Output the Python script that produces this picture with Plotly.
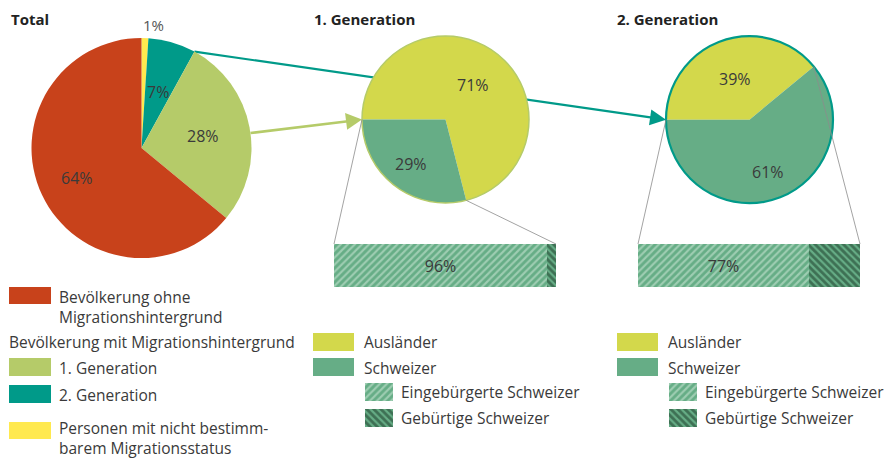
import math
import plotly.graph_objects as go

W, H = 888, 460

# ---------------- data ----------------
titles = ["Total", "1. Generation", "2. Generation"]

total_labels = ["Personen mit nicht bestimmbarem Migrationsstatus", "2. Generation",
                "1. Generation", "Bevölkerung ohne Migrationshintergrund"]
total_values = [1, 7, 28, 64]

gen_labels = ["Ausländer", "Schweizer"]
gen1_values = [71, 29]
gen2_values = [39, 61]

swiss_labels = ["Eingebürgerte Schweizer", "Gebürtige Schweizer"]
gen1_swiss = [96, 4]
gen2_swiss = [77, 23]

legend_left = ["Bevölkerung ohne<br>Migrationshintergrund", "Bevölkerung mit Migrationshintergrund",
               "1. Generation", "2. Generation", "Personen mit nicht bestimm-<br>barem Migrationsstatus"]

# ---------------- styles ----------------
C_NONE = "#c8421b"
C_G1 = "#b5cb69"
C_G2 = "#009a89"
C_UNK = "#ffe94f"
C_AUS = "#d3d84b"
C_CH = "#66ad86"
C_LIGHT_STRIPE = "#d6eddd"
C_DARK_STRIPE = "#153422"
TXT = "#3a3a3a"
FONT = "Open Sans"
LEG_SIZE = 15.5
LAB_SIZE = 16

total_colors = [C_UNK, C_G2, C_G1, C_NONE]
gen_colors = [C_AUS, C_CH]

# pie geometry in pixels: centre x, centre y, radius, rotation
P0 = dict(cx=141.5, cy=148.0, r=110.0, rot=0)
P1 = dict(cx=445.5, cy=119.5, r=83.5, rot=-90)
P2 = dict(cx=749.5, cy=119.7, r=83.5, rot=-90)

BAR1 = dict(x0=334, x1=556, y0=244, y1=287)
BAR2 = dict(x0=638, x1=860, y0=244, y1=287)


def dom(p):
    return dict(x=[(p["cx"] - p["r"]) / W, (p["cx"] + p["r"]) / W],
                y=[1 - (p["cy"] + p["r"]) / H, 1 - (p["cy"] - p["r"]) / H])


def point(p, ang, frac=1.0):
    a = math.radians(ang)
    return (p["cx"] + frac * p["r"] * math.sin(a), p["cy"] - frac * p["r"] * math.cos(a))


def angles(p, values):
    tot = sum(values)
    out, acc = [], 0
    for v in values:
        a0 = p["rot"] + 360 * acc / tot
        acc += v
        a1 = p["rot"] + 360 * acc / tot
        out.append((a0, a1))
    return out


fig = go.Figure()

# ---------------- pies ----------------
for p, vals, labs, cols in [(P0, total_values, total_labels, total_colors),
                            (P1, gen1_values, gen_labels, gen_colors),
                            (P2, gen2_values, gen_labels, gen_colors)]:
    fig.add_trace(go.Pie(values=vals, labels=labs, sort=False, direction="clockwise",
                         rotation=p["rot"], textinfo="none", hoverinfo="label+percent",
                         marker=dict(colors=cols, line=dict(width=0)),
                         domain=dom(p), showlegend=False))

# ---------------- stacked hatched bars ----------------
pat_styles = [dict(shape="/", bgcolor=C_CH, fgcolor=C_LIGHT_STRIPE, size=5, solidity=0.42),
              dict(shape="\\", bgcolor=C_CH, fgcolor=C_DARK_STRIPE, size=5, solidity=0.58)]
for vals, xa, ya in [(gen1_swiss, "x2", "y2"), (gen2_swiss, "x3", "y3")]:
    base = 0
    for j, v in enumerate(vals):
        fig.add_trace(go.Bar(orientation="h", y=[0], x=[v], base=[base], width=[1],
                             xaxis=xa, yaxis=ya, name=swiss_labels[j],
                             marker=dict(color=C_CH, line=dict(width=0), pattern=pat_styles[j]),
                             text=[f"{v}%"] if j == 0 else None,
                             textposition="inside", insidetextanchor="middle",
                             textfont=dict(family=FONT, size=LAB_SIZE, color=TXT),
                             showlegend=False, hoverinfo="name+x"))
        base += v

# ---------------- legend swatches ----------------
shapes = []
annotations = []


def rect(x0, y0, x1, y1, color):
    shapes.append(dict(type="rect", xref="x", yref="y", x0=x0, x1=x1, y0=y0, y1=y1,
                       fillcolor=color, line=dict(width=0), layer="below"))


def text(x, y, s, size=LEG_SIZE, color=TXT, bold=False, anchor="left", yanchor="middle"):
    annotations.append(dict(xref="x", yref="y", x=x, y=y, text=f"<b>{s}</b>" if bold else s,
                            showarrow=False, xanchor=anchor, yanchor=yanchor, align="left",
                            borderpad=0, font=dict(family=FONT, size=size, color=color)))


rect(9, 287, 51, 304, C_NONE)
rect(9, 358, 51, 376, C_G1)
rect(9, 385, 51, 403, C_G2)
rect(9, 422, 51, 439, C_UNK)
text(58, 306.5, legend_left[0])
text(8, 341.5, legend_left[1])
text(58, 368, legend_left[2])
text(58, 395, legend_left[3])
text(58, 459.5, legend_left[4], yanchor="bottom")

for off in (0, 304):
    rect(313 + off, 333, 354 + off, 351, C_AUS)
    rect(313 + off, 358, 354 + off, 376, C_CH)
    text(363 + off, 342, gen_labels[0])
    text(363 + off, 367.5, gen_labels[1])
    for j, yc in enumerate((392, 417.5)):
        fig.add_trace(go.Bar(orientation="h", y=[yc], x=[28], base=[365 + off], width=[18],
                             xaxis="x", yaxis="y", marker=dict(color=C_CH, line=dict(width=0),
                                                               pattern=pat_styles[j]),
                             showlegend=False, hoverinfo="skip"))
        text(400 + off, yc, swiss_labels[j])

# ---------------- titles ----------------
text(10, 18.5, titles[0], size=15, color="#222", bold=True)
text(313, 18.5, titles[1], size=15, color="#222", bold=True)
text(616, 18.5, titles[2], size=15, color="#222", bold=True)

# ---------------- pie labels ----------------
lab_frac0 = [None, 0.53, 0.57, 0.65]
for (a0, a1), v, f in zip(angles(P0, total_values), total_values, lab_frac0):
    if f is None:
        x, y = point(P0, (a0 + a1) / 2, 1.12)
        text(x + 8, y, f"{v}%", size=LAB_SIZE - 1, color="#555", anchor="center")
    else:
        x, y = point(P0, (a0 + a1) / 2, f)
        text(x, y, f"{v}%", size=LAB_SIZE, anchor="center")
for p, vals, fr in [(P1, gen1_values, [0.53, 0.67]), (P2, gen2_values, [0.52, 0.66])]:
    for (a0, a1), v, f in zip(angles(p, vals), vals, fr):
        x, y = point(p, (a0 + a1) / 2, f)
        text(x, y, f"{v}%", size=LAB_SIZE, anchor="center")

# ---------------- connectors ----------------
def arrow(x0, y0, x1, y1, color, width, hl=16, hw=7.5, layer="below"):
    dx, dy = x1 - x0, y1 - y0
    L = math.hypot(dx, dy)
    ux, uy = dx / L, dy / L
    bx, by = x1 - hl * ux, y1 - hl * uy
    shapes.append(dict(type="line", xref="x", yref="y", x0=x0, y0=y0, x1=bx + 2 * ux, y1=by + 2 * uy,
                       line=dict(color=color, width=width), layer=layer))
    px_, py_ = -uy, ux
    path = (f"M{x1},{y1} L{bx + hw * px_},{by + hw * py_} L{bx - hw * px_},{by - hw * py_} Z")
    shapes.append(dict(type="path", xref="x", yref="y", path=path, fillcolor=color,
                       line=dict(width=0), layer=layer))


ang0 = angles(P0, total_values)
# teal: from boundary 2. Generation / 1. Generation to the 2nd pie
sx, sy = point(P0, ang0[1][1])
tx, ty = point(P2, P2["rot"])
arrow(sx, sy, tx, ty, C_G2, 2.2, hl=16, hw=8)
# light green: from the 1. Generation slice to the 1st pie
sx, sy = point(P0, (ang0[2][0] + ang0[2][1]) / 2 + 3)
tx, ty = point(P1, P1["rot"])
arrow(sx, sy, tx, ty, C_G1, 2.6, hl=16, hw=8.5, layer="above")

# circle outlines
shapes.append(dict(type="circle", xref="x", yref="y", x0=P1["cx"] - P1["r"], x1=P1["cx"] + P1["r"],
                   y0=P1["cy"] - P1["r"], y1=P1["cy"] + P1["r"], line=dict(color=C_G1, width=1.5),
                   layer="above"))
shapes.append(dict(type="circle", xref="x", yref="y", x0=P2["cx"] - P2["r"], x1=P2["cx"] + P2["r"],
                   y0=P2["cy"] - P2["r"], y1=P2["cy"] + P2["r"], line=dict(color=C_G2, width=2.2),
                   layer="above"))

# zoom lines from the Schweizer slice to the bars
for p, vals, bar in [(P1, gen1_values, BAR1), (P2, gen2_values, BAR2)]:
    a0, a1 = angles(p, vals)[1]
    for ang, bx in ((a1, bar["x0"]), (a0, bar["x1"])):
        x, y = point(p, ang)
        shapes.append(dict(type="line", xref="x", yref="y", x0=x, y0=y, x1=bx, y1=bar["y0"],
                           line=dict(color="#8c8c8c", width=0.8), layer="above"))

fig.update_layout(
    width=W, height=H, margin=dict(l=0, r=0, t=0, b=0),
    paper_bgcolor="white", plot_bgcolor="rgba(0,0,0,0)",
    barmode="overlay", bargap=0, showlegend=False,
    font=dict(family=FONT, color=TXT),
    xaxis=dict(domain=[0, 1], range=[0, W], visible=False, fixedrange=True),
    yaxis=dict(domain=[0, 1], range=[H, 0], visible=False, fixedrange=True),
    xaxis2=dict(domain=[BAR1["x0"] / W, BAR1["x1"] / W], range=[0, 100], visible=False,
                anchor="y2", fixedrange=True),
    yaxis2=dict(domain=[1 - BAR1["y1"] / H, 1 - BAR1["y0"] / H], range=[-0.5, 0.5], visible=False,
                anchor="x2", fixedrange=True),
    xaxis3=dict(domain=[BAR2["x0"] / W, BAR2["x1"] / W], range=[0, 100], visible=False,
                anchor="y3", fixedrange=True),
    yaxis3=dict(domain=[1 - BAR2["y1"] / H, 1 - BAR2["y0"] / H], range=[-0.5, 0.5], visible=False,
                anchor="x3", fixedrange=True),
    shapes=shapes, annotations=annotations,
)

fig.write_html("out.html", config={"displayModeBar": False},
               post_script="document.body.style.margin='0';document.body.style.overflow='hidden';")
